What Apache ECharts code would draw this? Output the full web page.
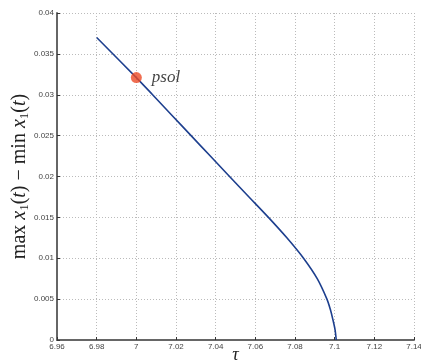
<!DOCTYPE html>
<html>
<head>
<meta charset="utf-8">
<script src="https://cdn.jsdelivr.net/npm/echarts@6/dist/echarts.min.js"></script>
<style>html,body{margin:0;padding:0;background:#fff;}#c{width:421px;height:362px;}</style>
</head>
<body>
<div id="c"></div>
<script>
var tauValues = [6.980, 7.000, 7.0082, 7.0179, 7.0276, 7.0373, 7.0470, 7.0568, 7.0666, 7.0759, 7.0843, 7.0912, 7.0961, 7.0978, 7.0991, 7.1002, 7.1008];
var ampValues = [0.037, 0.0321, 0.030, 0.0275, 0.025, 0.0225, 0.020, 0.0175, 0.015, 0.0125, 0.010, 0.0075, 0.005, 0.00375, 0.0025, 0.00125, 0.0];
var psolPoint = [7.0, 0.0321];
var psolLabel = 'psol';
var xTickLabels = ['6.96', '6.98', '7', '7.02', '7.04', '7.06', '7.08', '7.1', '7.12', '7.14'];
var yTickLabels = ['0', '0.005', '0.01', '0.015', '0.02', '0.025', '0.03', '0.035', '0.04'];

var lineData = tauValues.map(function (t, i) { return [t, ampValues[i]]; });
var chart = echarts.init(document.getElementById('c'), null, {renderer: 'canvas'});
var axisLab = {fontFamily: 'Liberation Sans', fontSize: 8, color: '#444'};
chart.setOption({
  animation: false,
  backgroundColor: '#fff',
  grid: {left: 57, right: 7, top: 13, bottom: 22, containLabel: false, outerBoundsMode: 'none'},
  xAxis: {
    type: 'value', min: 6.96, max: 7.14, interval: 0.02,
    name: 'τ', nameLocation: 'middle', nameGap: 6, nameMoveOverlap: false,
    nameTextStyle: {fontFamily: 'Liberation Serif', fontStyle: 'italic', fontSize: 18, color: '#222'},
    axisLine: {show: true, onZero: false, lineStyle: {color: '#666', width: 2}},
    axisTick: {show: true, inside: true, length: 3, lineStyle: {color: '#333'}},
    axisLabel: Object.assign({margin: 3, formatter: function (v) { return xTickLabels[Math.round((v - 6.96) / 0.02)]; }}, axisLab),
    splitLine: {show: true, lineStyle: {color: '#bbb', type: [1, 2], width: 1}}
  },
  yAxis: {
    type: 'value', min: 0, max: 0.04, interval: 0.005,
    name: '{n|max }{i|x}{s|1}{n|(}{i|t}{n|) − min }{i|x}{s|1}{n|(}{i|t}{n|)}',
    nameLocation: 'middle', nameGap: 26, nameRotate: 90, nameMoveOverlap: false,
    nameTextStyle: {
      rich: {
        n: {fontFamily: 'Liberation Serif', fontSize: 20, color: '#222'},
        i: {fontFamily: 'Liberation Serif', fontStyle: 'italic', fontSize: 20, color: '#222'},
        s: {fontFamily: 'Liberation Serif', fontSize: 13, color: '#222', padding: [9, 0, 0, 0]}
      }
    },
    axisLine: {show: true, lineStyle: {color: '#666', width: 2}},
    axisTick: {show: true, inside: true, length: 3, lineStyle: {color: '#333'}},
    axisLabel: Object.assign({margin: 3, formatter: function (v) { return yTickLabels[Math.round(v / 0.005)]; }}, axisLab),
    splitLine: {show: true, lineStyle: {color: '#bbb', type: [1, 2], width: 1}}
  },
  series: [
    {
      type: 'line', data: lineData, showSymbol: false, smooth: 0.3,
      lineStyle: {color: '#1d3f8e', width: 1.6}, z: 2
    },
    {
      type: 'scatter', data: [psolPoint], symbolSize: 11,
      itemStyle: {color: '#ec4a26'}, z: 3,
      label: {show: true, position: 'right', distance: 10, formatter: psolLabel,
        fontFamily: 'Liberation Serif', fontStyle: 'italic', fontSize: 17, color: '#111'}
    }
  ]
});
</script>
</body>
</html>
